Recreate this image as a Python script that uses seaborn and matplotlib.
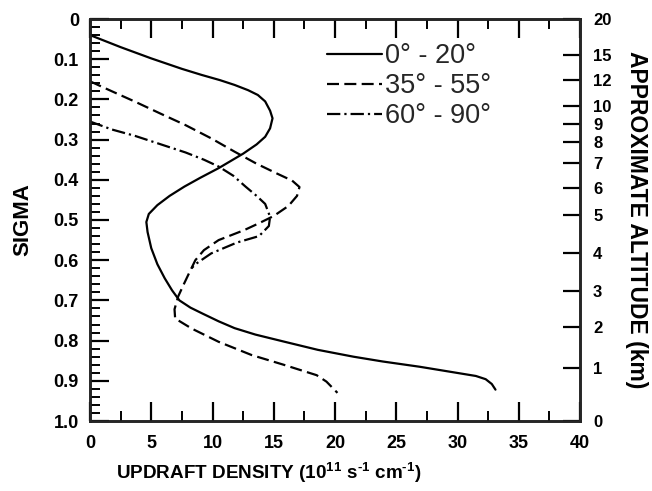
import numpy as np
import pandas as pd
import matplotlib
matplotlib.use("Agg")
import matplotlib.pyplot as plt
from matplotlib.lines import Line2D
from matplotlib.font_manager import FontProperties
from matplotlib.ticker import FixedLocator, MultipleLocator, FixedFormatter
import seaborn as sns

# Updraft density profiles (10^11 s^-1 cm^-1) against sigma, per latitude band
band_labels = ["0\u00b0 - 20\u00b0", "35\u00b0 - 55\u00b0", "60\u00b0 - 90\u00b0"]

tropics_density = [0.0, 2.5, 5.0, 7.5, 9.1, 10.6, 11.8, 12.9, 13.7, 14.3, 14.7, 14.9,
                   14.7, 14.3, 13.6, 12.5, 10.5, 9.0, 7.7, 6.5, 5.5, 4.8, 4.6, 4.7,
                   5.0, 5.5, 6.1, 6.7, 7.3, 8.2, 9.2, 10.5, 11.8, 13.5, 15.9, 18.6,
                   21.5, 23.9, 26.9, 29.5, 31.5, 32.3, 32.8, 33.1]
tropics_sigma = [0.040, 0.070, 0.098, 0.124, 0.139, 0.152, 0.164, 0.177, 0.189, 0.205,
                 0.228, 0.247, 0.272, 0.293, 0.312, 0.335, 0.371, 0.395, 0.417, 0.440,
                 0.463, 0.485, 0.505, 0.530, 0.570, 0.610, 0.645, 0.675, 0.700, 0.718,
                 0.733, 0.752, 0.769, 0.785, 0.803, 0.823, 0.840, 0.852, 0.865, 0.878,
                 0.888, 0.896, 0.908, 0.922]

midlat_density = [0.0, 1.8, 3.7, 5.8, 7.8, 9.9, 11.8, 13.6, 15.3, 16.5, 17.1, 16.9,
                  16.2, 15.0, 13.8, 12.6, 10.5, 9.3, 8.6, 8.2, 7.7, 7.2, 6.9, 6.95,
                  8.3, 10.5, 13.2, 15.8, 18.5, 19.3, 20.2]
midlat_sigma = [0.155, 0.180, 0.206, 0.236, 0.264, 0.297, 0.330, 0.360, 0.385, 0.402,
                0.418, 0.440, 0.465, 0.490, 0.508, 0.525, 0.550, 0.575, 0.600, 0.625,
                0.657, 0.690, 0.722, 0.745, 0.770, 0.803, 0.836, 0.860, 0.886, 0.902,
                0.930]

polar_density = [0.0, 1.8, 3.7, 5.8, 7.8, 9.3, 10.5, 11.7, 12.7, 13.6, 14.3, 14.7,
                 14.6, 13.8, 12.0, 9.9, 8.6, 8.3]
polar_sigma = [0.255, 0.275, 0.291, 0.312, 0.332, 0.350, 0.367, 0.390, 0.417, 0.440,
               0.460, 0.492, 0.515, 0.540, 0.556, 0.583, 0.610, 0.620]

# Left axis ticks (sigma) and right axis ticks (approximate altitude in km)
sigma_ticks = [0.0, 0.1, 0.2, 0.3, 0.4, 0.5, 0.6, 0.7, 0.8, 0.9, 1.0]
sigma_tick_labels = ["0", "0.1", "0.2", "0.3", "0.4", "0.5", "0.6", "0.7", "0.8", "0.9", "1.0"]
altitude_labels = ["0", "1", "2", "3", "4", "5", "6", "7", "8", "9", "10", "12", "15", "20"]
altitude_sigma = [1.0, 0.868, 0.766, 0.677, 0.582, 0.488, 0.420, 0.358, 0.306, 0.261,
                  0.216, 0.152, 0.090, 0.0]
density_ticks = [0, 5, 10, 15, 20, 25, 30, 35, 40]

frames = []
for label, dens, sig in zip(band_labels,
                            [tropics_density, midlat_density, polar_density],
                            [tropics_sigma, midlat_sigma, polar_sigma]):
    frames.append(pd.DataFrame({"band": label, "density": dens, "sigma": sig}))
df = pd.concat(frames, ignore_index=True)

sns.set_theme(style="ticks")
FAMILY = ["Liberation Sans", "DejaVu Sans"]
plt.rcParams["font.family"] = FAMILY
plt.rcParams["font.weight"] = "bold"
plt.rcParams["mathtext.fontset"] = "custom"
plt.rcParams["mathtext.rm"] = "Liberation Sans:bold"
plt.rcParams["mathtext.it"] = "Liberation Sans:bold"
plt.rcParams["mathtext.bf"] = "Liberation Sans:bold"

LW = 1.6
dash_styles = {
    band_labels[0]: "",
    band_labels[1]: (5.4, 2.4),
    band_labels[2]: (6.0, 1.8, 1.0, 1.8),
}

fig = plt.figure(figsize=(6.52, 4.91), dpi=100)
ax = fig.add_axes([90 / 652, 1 - 421 / 491, 490 / 652, 402 / 491])

sns.lineplot(data=df, x="density", y="sigma", style="band", dashes=dash_styles,
             color="black", sort=False, estimator=None, linewidth=LW,
             legend=False, ax=ax)

ax.set_xlim(0, 40)
ax.set_ylim(1.0, 0.0)

for side in ["left", "right", "top", "bottom"]:
    ax.spines[side].set_visible(True)
    ax.spines[side].set_linewidth(1.8)
    ax.spines[side].set_color("black")

ax.xaxis.set_major_locator(FixedLocator(density_ticks))
ax.xaxis.set_minor_locator(MultipleLocator(2.5))
ax.yaxis.set_major_locator(FixedLocator(sigma_ticks))
ax.yaxis.set_major_formatter(FixedFormatter(sigma_tick_labels))
ax.yaxis.set_minor_locator(MultipleLocator(0.02))
ax.tick_params(axis="both", which="major", direction="in", length=14, width=1.6,
               color="black", labelcolor="black", labelsize=13)
ax.tick_params(axis="both", which="minor", direction="in", length=7, width=1.4,
               color="black")
ax.tick_params(axis="x", which="both", top=True, bottom=True, pad=10)
ax.tick_params(axis="y", which="both", left=True, right=False, pad=8)

ax.set_xlabel("UPDRAFT DENSITY (10$^{11}$ s$^{\\text{-1}}$ cm$^{\\text{-1}}$)",
              fontsize=13.6, fontweight="bold", color="black")
ax.xaxis.set_label_coords((269 - 90) / 490, -(461 - 421) / 402)
ax.set_ylabel("SIGMA", fontsize=16, fontweight="bold", color="black")
ax.yaxis.set_label_coords(-(90 - 33) / 490, 0.5)

# Right axis: approximate altitude on the same sigma scale
ax2 = ax.twinx()
ax2.set_ylim(1.0, 0.0)
ax2.yaxis.set_major_locator(FixedLocator(altitude_sigma))
ax2.yaxis.set_major_formatter(FixedFormatter(altitude_labels))
ax2.yaxis.set_minor_locator(FixedLocator([]))
ax2.tick_params(axis="y", which="major", direction="in", length=12, width=1.6,
                pad=9.4, color="black", labelcolor="black", labelsize=12)
for side in ["left", "right", "top", "bottom"]:
    ax2.spines[side].set_linewidth(1.8)
ax2.set_ylabel("APPROXIMATE ALTITUDE (km)", fontsize=16.5, fontweight="bold",
               rotation=-90, color="black")
ax2.yaxis.set_label_coords(1 + (648 - 580) / 490, 0.5)

handles = [Line2D([], [], color="black", linewidth=LW, linestyle="-"),
           Line2D([], [], color="black", linewidth=LW, dashes=dash_styles[band_labels[1]]),
           Line2D([], [], color="black", linewidth=LW, dashes=dash_styles[band_labels[2]])]
ax.legend(handles, band_labels, loc="upper left",
          bbox_to_anchor=((327 - 90) / 490, 1 - (43 - 19) / 402),
          frameon=False, prop=FontProperties(family=FAMILY, weight="normal", size=19.5),
          handlelength=2.03, handletextpad=0.11,
          labelspacing=0.15, borderaxespad=0, borderpad=0)

fig.savefig("out.png", dpi=100)
